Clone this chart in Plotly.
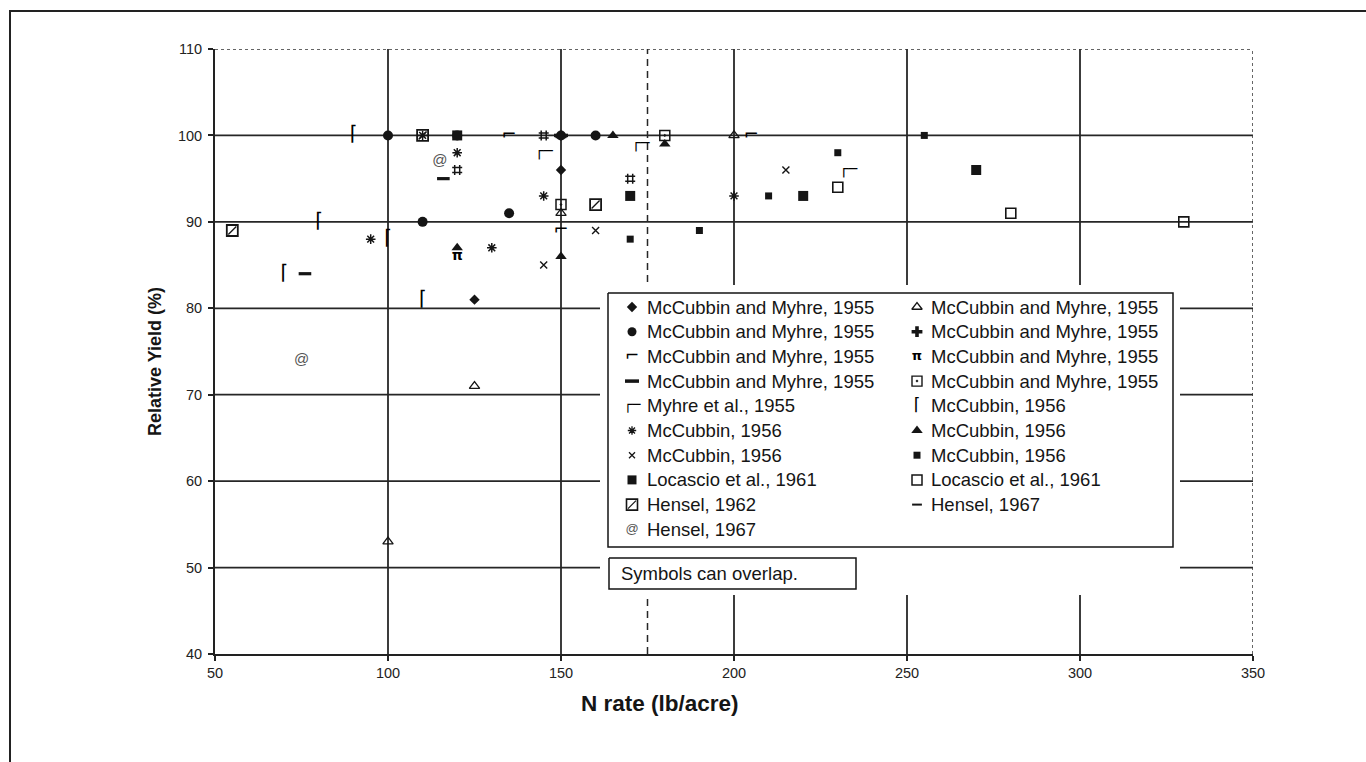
import plotly.graph_objects as go

# ---------------- data ----------------
x_ticks = [50, 100, 150, 200, 250, 300, 350]
y_ticks = [40, 50, 60, 70, 80, 90, 100, 110]
x_grid = [100, 150, 200, 250, 300]
y_grid = [50, 60, 70, 80, 90, 100]
x_ref_line = 175

labels = [
    "McCubbin and Myhre, 1955", "McCubbin and Myhre, 1955", "McCubbin and Myhre, 1955",
    "McCubbin and Myhre, 1955", "Myhre et al., 1955", "McCubbin, 1956", "McCubbin, 1956",
    "Locascio et al., 1961", "Hensel, 1962", "Hensel, 1967",
    "McCubbin and Myhre, 1955", "McCubbin and Myhre, 1955", "McCubbin and Myhre, 1955",
    "McCubbin and Myhre, 1955", "McCubbin, 1956", "McCubbin, 1956", "McCubbin, 1956",
    "Locascio et al., 1961", "Hensel, 1967",
]

mm_diamond_x = [150, 150, 125]
mm_diamond_y = [100, 96, 81]
mm_circle_x = [100, 110, 120, 135, 150, 160]
mm_circle_y = [100, 90, 100, 91, 100, 100]
mm_corner_x = [135, 205, 150]
mm_corner_y = [100, 100, 89]
mm_bar_x = [150]
mm_bar_y = [100]
myhre_x = [145, 173, 233]
myhre_y = [98, 99, 96]
mc56_star_x = [95, 120, 145, 200, 130, 110]
mc56_star_y = [88, 98, 93, 93, 87, 100]
mc56_x_x = [215, 160, 145]
mc56_x_y = [96, 89, 85]
loc_fill_x = [120, 170, 220, 270]
loc_fill_y = [100, 93, 93, 96]
hen62_x = [55, 110, 160]
hen62_y = [89, 100, 92]
hen67_at_x = [75, 115]
hen67_at_y = [74, 97]
mm_tri_open_x = [150, 200, 150, 125, 100]
mm_tri_open_y = [100, 100, 91, 71, 53]
mm_plus_x = [145, 120, 170]
mm_plus_y = [100, 96, 95]
mm_pi_x = [120]
mm_pi_y = [86]
mm_sqdot_x = [180, 150]
mm_sqdot_y = [100, 92]
mc56_gamma_x = [90, 80, 70, 100, 110]
mc56_gamma_y = [100, 90, 84, 88, 81]
mc56_tri_x = [165, 180, 120, 150]
mc56_tri_y = [100, 99, 87, 86]
mc56_half_x = [230, 210, 255, 170, 190]
mc56_half_y = [98, 93, 100, 88, 89]
loc_open_x = [230, 280, 330]
loc_open_y = [94, 91, 90]
hen67_dash_x = [76, 116]
hen67_dash_y = [84, 95]

INK = "#151515"
FONT = "Liberation Sans, Arial, sans-serif"
GLYPH_FONT = "DejaVu Sans"


def mk(symbol, size, lw=0, color=INK):
    return dict(kind="marker", symbol=symbol, size=size, lw=lw, color=color)


def tx(char, size, family=GLYPH_FONT, color="#000", weight="normal"):
    return dict(kind="text", char=char, size=size, family=family, color=color, weight=weight)


# (x, y, plot style, legend style)
series = [
    (mm_diamond_x, mm_diamond_y, [mk("diamond", 8)], [mk("diamond", 8)]),
    (mm_circle_x, mm_circle_y, [mk("circle", 10)], [mk("circle", 9)]),
    (mm_corner_x, mm_corner_y, [tx("⌐", 18)], [tx("⌐", 17)]),
    (mm_bar_x, mm_bar_y, [mk("line-ew", 10, 3.5)], [mk("line-ew", 10, 3.5)]),
    (myhre_x, myhre_y, [tx("┌─", 15)], [tx("┌─", 14)]),
    (mc56_star_x, mc56_star_y, [mk("asterisk-open", 8, 1.5)], [mk("asterisk-open", 7, 1.3)]),
    (mc56_x_x, mc56_x_y, [mk("x-thin-open", 7, 1.4)], [mk("x-thin-open", 6, 1.3)]),
    (loc_fill_x, loc_fill_y, [mk("square", 10)], [mk("square", 9)]),
    (hen62_x, hen62_y, [mk("square-open", 11, 1.8), mk("line-ne-open", 8, 1.3)],
     [mk("square-open", 11, 1.6), mk("line-ne-open", 8, 1.2)]),
    (hen67_at_x, hen67_at_y, [tx("@", 15, FONT, "#555")], [tx("@", 13, FONT, "#555")]),
    (mm_tri_open_x, mm_tri_open_y, [mk("triangle-up-open", 9, 1.3)], [mk("triangle-up-open", 9, 1.3)]),
    (mm_plus_x, mm_plus_y, [mk("hash-open", 10, 1.5)], [mk("cross", 9)]),
    (mm_pi_x, mm_pi_y, [tx("π", 14, weight="bold")], [tx("π", 13, weight="bold")]),
    (mm_sqdot_x, mm_sqdot_y, [mk("square-open-dot", 10, 1.5)], [mk("square-open-dot", 10, 1.4)]),
    (mc56_gamma_x, mc56_gamma_y, [tx("⌈", 20)], [tx("⌈", 17)]),
    (mc56_tri_x, mc56_tri_y, [mk("triangle-up", 10)], [mk("triangle-up", 10)]),
    (mc56_half_x, mc56_half_y, [mk("square", 7)], [mk("square", 7)]),
    (loc_open_x, loc_open_y, [mk("square-open", 10, 1.6)], [mk("square-open", 10, 1.5)]),
    (hen67_dash_x, hen67_dash_y, [mk("line-ew", 9, 3.2)], [mk("line-ew", 7, 2)]),
]

# ---------------- layout constants (pixels) ----------------
W, H = 1366, 762
PL, PR, PT, PB = 215, 1253, 49, 654          # plot area
LEG_BOX = (608, 293, 1173, 547)               # legend frame
NOTE_BOX = (609, 558, 856, 589)               # note frame
LEG_ROW0, LEG_STEP = 307, 24.7
LEG_SYM_X = (632, 917)
LEG_TXT_X = (645, 929)
AUX_X = (600, 1180)
AUX_Y = (285, 595)


def px_to_paper_x(px):
    return (px - PL) / (PR - PL)


def px_to_paper_y(py):
    return (PB - py) / (PB - PT)


fig = go.Figure()


def add_marks(xs, ys, style, xaxis="x", yaxis="y"):
    for layer in style:
        if layer["kind"] == "marker":
            fig.add_trace(go.Scatter(
                x=xs, y=ys, mode="markers", xaxis=xaxis, yaxis=yaxis,
                marker=dict(symbol=layer["symbol"], size=layer["size"], color=layer["color"],
                            line=dict(width=layer["lw"], color=layer["color"])),
                showlegend=False, hoverinfo="skip", cliponaxis=False))
        else:
            fig.add_trace(go.Scatter(
                x=xs, y=ys, mode="text", xaxis=xaxis, yaxis=yaxis,
                text=[layer["char"]] * len(xs), textposition="middle center",
                textfont=dict(family=layer["family"], size=layer["size"], color=layer["color"],
                              weight=layer["weight"]),
                showlegend=False, hoverinfo="skip", cliponaxis=False))


# data marks
for xs, ys, pstyle, lstyle in series:
    add_marks(xs, ys, pstyle)

# ---------------- manual legend on auxiliary axes ----------------
lx0, ly0, lx1, ly1 = LEG_BOX
fig.add_trace(go.Scatter(x=[lx0, lx1, lx1, lx0, lx0], y=[ly0, ly0, ly1, ly1, ly0],
                         mode="lines", fill="toself", fillcolor="white",
                         line=dict(color=INK, width=1.5), xaxis="x2", yaxis="y2",
                         showlegend=False, hoverinfo="skip"))
nx0, ny0, nx1, ny1 = NOTE_BOX
fig.add_trace(go.Scatter(x=[nx0, nx1, nx1, nx0, nx0], y=[ny0, ny0, ny1, ny1, ny0],
                         mode="lines", fill="toself", fillcolor="white",
                         line=dict(color=INK, width=1.5), xaxis="x2", yaxis="y2",
                         showlegend=False, hoverinfo="skip"))

annotations = []
for i, (xs, ys, pstyle, lstyle) in enumerate(series):
    col = 0 if i < 10 else 1
    row = i if i < 10 else i - 10
    yy = LEG_ROW0 + row * LEG_STEP
    add_marks([LEG_SYM_X[col]], [yy], lstyle, "x2", "y2")
    annotations.append(dict(x=LEG_TXT_X[col], y=yy, xref="x2", yref="y2", text=labels[i],
                            showarrow=False, xanchor="left", yanchor="middle",
                            font=dict(family=FONT, size=18.5, color=INK)))

annotations.append(dict(x=nx0 + 10, y=(ny0 + ny1) / 2, xref="x2", yref="y2",
                        text="Symbols can overlap.", showarrow=False, xanchor="left",
                        yanchor="middle", font=dict(family=FONT, size=18.5, color=INK)))

# axis titles
annotations.append(dict(x=px_to_paper_x(155), y=px_to_paper_y(362), xref="paper", yref="paper",
                        xanchor="center", yanchor="middle",
                        text="<b>Relative Yield (%)</b>", textangle=-90, showarrow=False,
                        font=dict(family=FONT, size=18, color=INK)))
annotations.append(dict(x=px_to_paper_x(660), y=px_to_paper_y(703), xref="paper", yref="paper",
                        xanchor="center", yanchor="middle",
                        text="<b>N rate (lb/acre)</b>", showarrow=False,
                        font=dict(family=FONT, size=22.5, color=INK)))

# ---------------- shapes ----------------
shapes = []
for gx in x_grid:
    shapes.append(dict(type="line", xref="x", yref="y", x0=gx, x1=gx, y0=y_ticks[0], y1=y_ticks[-1],
                       line=dict(color="#262626", width=1.8), layer="below"))
for gy in y_grid:
    shapes.append(dict(type="line", xref="x", yref="y", x0=x_ticks[0], x1=x_ticks[-1], y0=gy, y1=gy,
                       line=dict(color="#262626", width=1.8), layer="below"))
# dotted top and right frame
shapes.append(dict(type="line", xref="x", yref="y", x0=x_ticks[0], x1=x_ticks[-1],
                   y0=y_ticks[-1], y1=y_ticks[-1], line=dict(color="#333", width=1.5, dash="dot"),
                   layer="below"))
shapes.append(dict(type="line", xref="x", yref="y", x0=x_ticks[-1], x1=x_ticks[-1],
                   y0=y_ticks[0], y1=y_ticks[-1], line=dict(color="#333", width=1.5, dash="dot"),
                   layer="below"))
# dashed reference line
shapes.append(dict(type="line", xref="x", yref="y", x0=x_ref_line, x1=x_ref_line,
                   y0=y_ticks[0], y1=y_ticks[-1], line=dict(color="#262626", width=1.5, dash="7px,5px"),
                   layer="below"))
# outer chart frame
shapes.append(dict(type="rect", xref="paper", yref="paper",
                   x0=px_to_paper_x(10), y0=px_to_paper_y(800), x1=px_to_paper_x(1420), y1=px_to_paper_y(11),
                   line=dict(color="#222", width=2), fillcolor="rgba(0,0,0,0)", layer="below"))

axis_common = dict(ticks="outside", ticklen=5, tickwidth=1.5, tickcolor="#222",
                   showline=True, linewidth=2, linecolor="#222", showgrid=False, zeroline=False,
                   tickfont=dict(family=FONT, size=14.5, color="#222"), fixedrange=True)

fig.update_layout(
    width=W, height=H, autosize=False,
    margin=dict(l=PL, r=W - PR, t=PT, b=H - PB, pad=0),
    paper_bgcolor="white", plot_bgcolor="white",
    showlegend=False,
    xaxis=dict(range=[x_ticks[0], x_ticks[-1]], tickmode="array", tickvals=x_ticks, **axis_common),
    yaxis=dict(range=[y_ticks[0], y_ticks[-1]], tickmode="array", tickvals=y_ticks,
               ticklabelstandoff=3, **axis_common),
    xaxis2=dict(domain=[px_to_paper_x(AUX_X[0]), px_to_paper_x(AUX_X[1])], range=list(AUX_X),
                visible=False, anchor="y2", fixedrange=True),
    yaxis2=dict(domain=[px_to_paper_y(AUX_Y[1]), px_to_paper_y(AUX_Y[0])],
                range=[AUX_Y[1], AUX_Y[0]], visible=False, anchor="x2", fixedrange=True),
    shapes=shapes,
    annotations=annotations,
    font=dict(family=FONT, color=INK),
)

fig.write_html("out.html")
